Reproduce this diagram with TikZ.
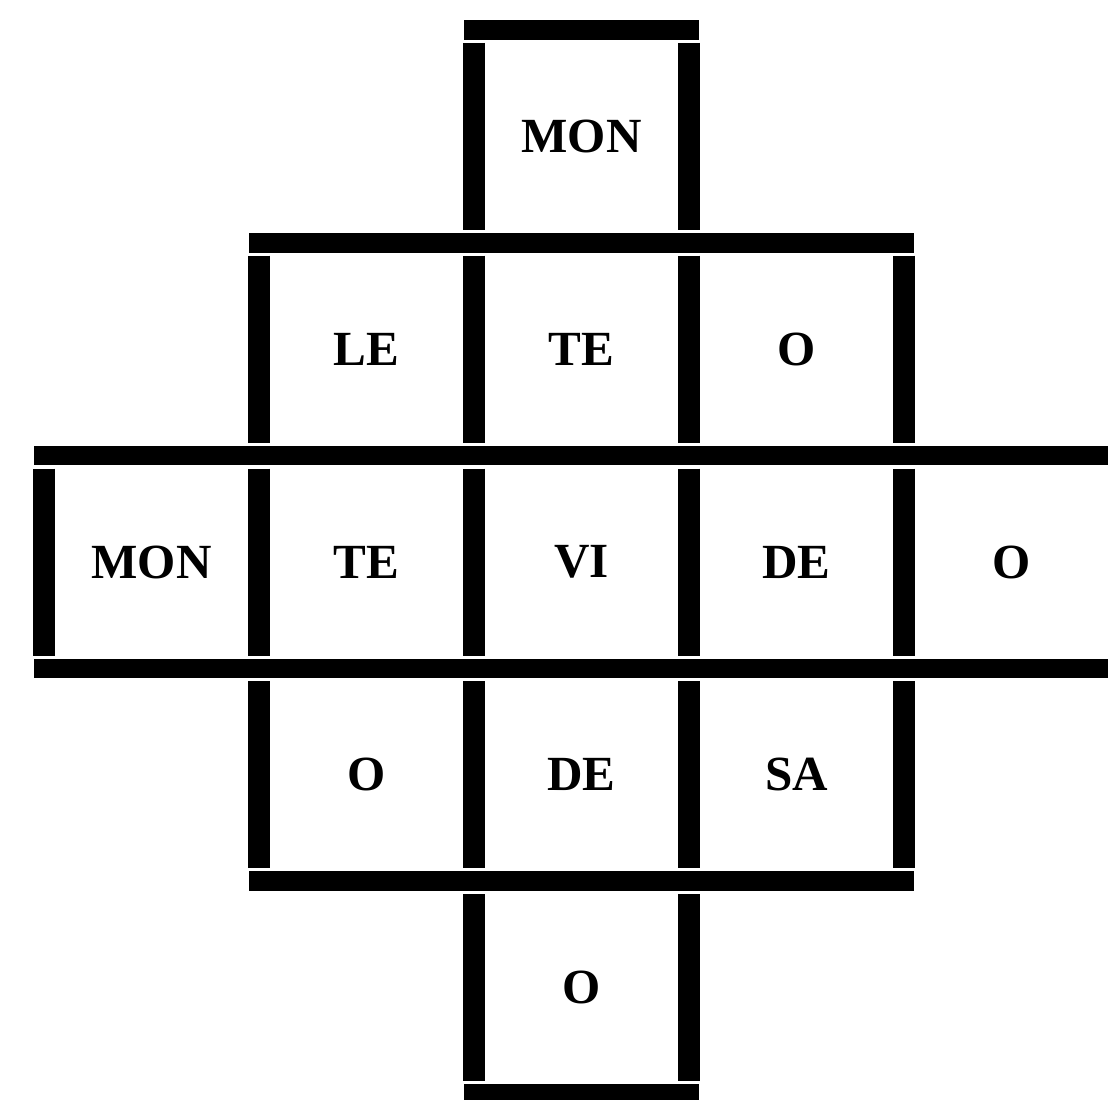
\documentclass[tikz,border=0pt]{standalone}
\usepackage{fontspec}
\setmainfont{Liberation Serif}

\tikzset{
  wall/.style={line width=5.2pt, line cap=rect},
  post/.style={line width=5.6pt, shorten <=0.12cm, shorten >=0.12cm},
  word/.style={font=\fontsize{13}{15}\selectfont\bfseries}
}

\begin{document}
\begin{tikzpicture}[x=2cm, y=-1.98cm]
    \useasboundingbox (-0.205,-0.141) rectangle (4.949,5.026);
    % the syllables, one per cell
    \foreach \r/\c/\syl in {
        0/2/MON,
        1/1/LE, 1/2/TE, 1/3/O,
        2/0/MON, 2/1/TE, 2/2/VI, 2/3/DE, 2/4/O,
        3/1/O, 3/2/DE, 3/3/SA,
        4/2/O}
    {
        \node[word] (cell-\r-\c) at (\c+0.5,\r+0.5) {\syl};
    }
    % horizontal walls
    \foreach \y/\a/\b in {0/2/3, 1/1/4, 2/0/4.95, 3/0/4.95, 4/1/4, 5/2/3}
        \draw[wall] (\a,\y) -- (\b,\y);
    % vertical posts, cut short at every wall
    \foreach \r/\cols in {0/{2,3}, 1/{1,2,3,4}, 2/{0,1,2,3,4}, 3/{1,2,3,4}, 4/{2,3}}
        \foreach \x in \cols
            \draw[post] (\x,\r) -- (\x,\r+1);
\end{tikzpicture}
\end{document}
